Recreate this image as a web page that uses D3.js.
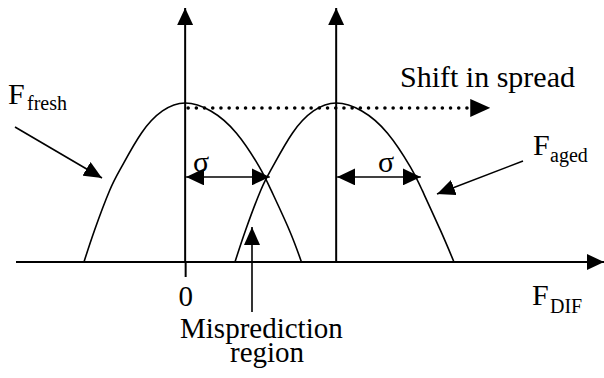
<!DOCTYPE html>
<html>
<head>
<meta charset="utf-8">
<script src="https://cdn.jsdelivr.net/npm/d3@7"></script>
<style>
body { margin: 0; background: #fff; }
text { font-family: "Liberation Serif", "Times New Roman", Times, serif; fill: #000; }
</style>
</head>
<body>
<script>
const width = 604, height = 378;

// curves: x in shift units (fresh peak = 0, aged peak = 1), y relative to peak
const freshCurve = [[-0.67, 0], [-0.6, 0.2], [-0.5, 0.45], [-0.42, 0.6], [-0.29, 0.81], [-0.15, 0.95], [0, 1],
    [0.17, 0.95], [0.34, 0.81], [0.49, 0.6], [0.57, 0.45], [0.69, 0.2], [0.77, 0]];
const agedCurve = [[0.33, 0], [0.4, 0.2], [0.5, 0.45], [0.58, 0.6], [0.71, 0.81], [0.85, 0.95], [1, 1],
    [1.17, 0.95], [1.34, 0.81], [1.49, 0.6], [1.57, 0.45], [1.69, 0.2], [1.78, 0]];
const peaks = [0, 1];
const sigma = 0.56, sigmaLevel = 0.535;
const shiftLevel = 0.969, shiftEnd = 2.02;
const xTicks = [0];
const xTickLabels = ["0"];

const x = d3.scaleLinear().domain([-1.12, 2.78]).range([16, 605]);
const y = d3.scaleLinear().domain([0, 1]).range([262, 103]);

const serif = "'Liberation Serif', 'Times New Roman', Times, serif";

const svg = d3.select("body").append("svg")
    .attr("width", width)
    .attr("height", height)
    .attr("font-family", serif);

const defs = svg.append("defs");
function marker(id, len, wid) {
    defs.append("marker")
        .attr("id", id)
        .attr("markerUnits", "userSpaceOnUse")
        .attr("markerWidth", len)
        .attr("markerHeight", wid)
        .attr("refX", len)
        .attr("refY", wid / 2)
        .attr("orient", "auto-start-reverse")
        .append("path")
        .attr("d", `M0,0L${len},${wid / 2}L0,${wid}Z`)
        .attr("fill", "#000");
    return `url(#${id})`;
}
const headAxis = marker("ha", 17, 16);
const headSig = marker("hs", 18, 17);
const headShift = marker("hd", 20, 18);
const headPtr = marker("hp", 18, 16);

// x axis with the single 0 tick
const xAxis = svg.append("g")
    .attr("transform", `translate(0,${y(0)})`)
    .call(d3.axisBottom(x).tickValues(xTicks).tickFormat((d, i) => xTickLabels[i])
        .tickSize(15).tickSizeOuter(0).tickPadding(8));
xAxis.attr("font-family", serif).attr("font-size", 29);
xAxis.select(".domain").attr("stroke-width", 2).attr("d", `M${x.range()[0]},0H${x.range()[1] - 1}`)
    .attr("marker-end", headAxis);
xAxis.selectAll(".tick line").attr("stroke-width", 2);

// vertical axes at each peak
svg.append("g")
    .selectAll("line")
    .data(peaks)
    .join("line")
    .attr("x1", d => x(d)).attr("x2", d => x(d))
    .attr("y1", y(0)).attr("y2", 8)
    .attr("stroke", "#000")
    .attr("stroke-width", 2)
    .attr("marker-end", headAxis);

// distributions
const line = d3.line()
    .x(d => x(d[0]))
    .y(d => y(d[1]))
    .curve(d3.curveNatural);
svg.append("g")
    .selectAll("path")
    .data([freshCurve, agedCurve])
    .join("path")
    .attr("d", line)
    .attr("fill", "none")
    .attr("stroke", "#000")
    .attr("stroke-width", 1.6);

// shift arrow (dotted)
svg.append("line")
    .attr("x1", x(0) + 3).attr("x2", x(shiftEnd))
    .attr("y1", y(shiftLevel)).attr("y2", y(shiftLevel))
    .attr("stroke", "#000")
    .attr("stroke-width", 3.6)
    .attr("stroke-linecap", "round")
    .attr("stroke-dasharray", "0 8.2")
    .attr("marker-end", headShift);

// sigma arrows
svg.append("g")
    .selectAll("line")
    .data(peaks)
    .join("line")
    .attr("x1", d => x(d) + 1).attr("x2", d => x(d + sigma))
    .attr("y1", y(sigmaLevel)).attr("y2", y(sigmaLevel))
    .attr("stroke", "#000")
    .attr("stroke-width", 1.6)
    .attr("marker-start", headSig)
    .attr("marker-end", headSig);

svg.append("g")
    .selectAll("text")
    .data([[193, 172], [378, 172]])
    .join("text")
    .attr("x", d => d[0]).attr("y", d => d[1])
    .attr("font-size", 30)
    .text("σ");

// pointer arrows
const pointers = [
    [[15, 127], [102, 178]],
    [[523, 161], [437, 194]],
    [[252, 312], [252, 227]]
];
svg.append("g")
    .selectAll("line")
    .data(pointers)
    .join("line")
    .attr("x1", d => d[0][0]).attr("y1", d => d[0][1])
    .attr("x2", d => d[1][0]).attr("y2", d => d[1][1])
    .attr("stroke", "#000")
    .attr("stroke-width", 1.6)
    .attr("marker-end", headPtr);

// labels
const labels = [
    { t: "F", x: 8, y: 104, s: 30 },
    { t: "fresh", x: 27, y: 110, s: 20 },
    { t: "Shift in spread", x: 400, y: 87, s: 30 },
    { t: "F", x: 533, y: 155, s: 30 },
    { t: "aged", x: 550, y: 162, s: 20 },
    { t: "F", x: 532, y: 305, s: 30 },
    { t: "DIF", x: 550, y: 313, s: 20 },
    { t: "Misprediction", x: 180, y: 338, s: 29 },
    { t: "region", x: 230, y: 362, s: 29 }
];
svg.append("g")
    .selectAll("text")
    .data(labels)
    .join("text")
    .attr("x", d => d.x).attr("y", d => d.y)
    .attr("font-size", d => d.s)
    .text(d => d.t);
</script>
</body>
</html>
